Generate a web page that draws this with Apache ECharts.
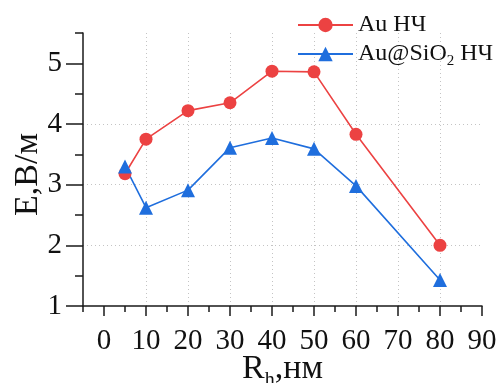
<!DOCTYPE html>
<html>
<head>
<meta charset="utf-8">
<script src="https://cdn.jsdelivr.net/npm/echarts@6/dist/echarts.min.js"></script>
<style>html,body{margin:0;padding:0;background:#fff}#c{width:499px;height:383px}</style>
</head>
<body>
<div id="c"></div>
<script>
// ---- data ----
const xValues = [5, 10, 20, 30, 40, 50, 60, 80];
const auValues = [3.18, 3.75, 4.22, 4.35, 4.87, 4.86, 3.83, 2.0];
const auSiO2Values = [3.30, 2.62, 2.91, 3.61, 3.77, 3.59, 2.98, 1.43];
const seriesNames = ['Au НЧ', 'Au@SiO2 НЧ'];
const xMajorTicks = [0, 10, 20, 30, 40, 50, 60, 70, 80, 90];
const yMajorTicks = [1, 2, 3, 4, 5];

const FONT = 'Liberation Serif';
const RED = '#ec4242';
const BLUE = '#1f6edd';
const AXIS = '#1a1a1a';

const chart = echarts.init(document.getElementById('c'), null, {renderer: 'canvas'});
const pairs = (ys) => xValues.map((x, i) => [x, ys[i]]);

const dotted = {color: '#c4c4c4', width: 1, type: [1, 3]};

chart.setOption({
  animation: false,
  backgroundColor: '#fff',
  textStyle: {fontFamily: FONT},
  grid: {left: 83, right: 17, top: 33, bottom: 77, containLabel: false, outerBoundsMode: 'none'},
  legend: {
    orient: 'vertical',
    left: 292,
    top: 8,
    itemWidth: 55,
    itemHeight: 18,
    itemGap: 5,
    data: seriesNames,
    formatter: (n) => n === seriesNames[1] ? '{m|Au@SiO}{s|2}{m| НЧ}' : '{m|' + n + '}',
    textStyle: {
      fontFamily: FONT, color: '#111', fontSize: 24,
      rich: {
        m: {fontFamily: FONT, fontSize: 24, lineHeight: 30, color: '#111'},
        s: {fontFamily: FONT, fontSize: 15, lineHeight: 15, verticalAlign: 'bottom', color: '#111'}
      }
    }
  },
  xAxis: [
    {
      type: 'value', min: -5, max: 90, splitNumber: 10,
      name: '{m|R}{s|h}{m|,нм}', nameLocation: 'middle', nameGap: 41, nameMoveOverlap: false,
      nameTextStyle: {
        fontFamily: FONT, color: '#111', fontSize: 34,
        rich: {
          m: {fontFamily: FONT, fontSize: 34, lineHeight: 44, color: '#111'},
          s: {fontFamily: FONT, fontSize: 20, lineHeight: 20, verticalAlign: 'bottom', color: '#111'}
        }
      },
      axisLine: {show: true, onZero: false, lineStyle: {color: AXIS, width: 1.5}},
      axisTick: {show: true, customValues: xMajorTicks, length: 10, lineStyle: {color: AXIS, width: 1.5}},
      axisLabel: {customValues: xMajorTicks, fontFamily: FONT, fontSize: 29, color: '#111', margin: 21},
      splitLine: {show: true, showMinLine: false, showMaxLine: false, lineStyle: dotted}
    },
    {
      type: 'value', min: -5, max: 90, interval: 5, position: 'bottom',
      axisLine: {show: false, onZero: false},
      axisTick: {show: true, length: 6, lineStyle: {color: AXIS, width: 1.5}},
      axisLabel: {show: false},
      splitLine: {show: false}
    }
  ],
  yAxis: [
    {
      type: 'value', min: 1, max: 5.5, interval: 1,
      name: 'E,В/м', nameLocation: 'middle', nameGap: 38, nameRotate: 90, nameMoveOverlap: false,
      nameTextStyle: {fontFamily: FONT, fontSize: 34, color: '#111', padding: [0, 10, 0, 0]},
      axisLine: {show: true, onZero: false, lineStyle: {color: AXIS, width: 1.5}},
      axisTick: {show: true, customValues: yMajorTicks, length: 17, lineStyle: {color: AXIS, width: 1.5}},
      axisLabel: {customValues: yMajorTicks, fontFamily: FONT, fontSize: 29, color: '#111', margin: 21},
      splitLine: {show: true, showMinLine: false, showMaxLine: false, lineStyle: dotted}
    },
    {
      type: 'value', min: 1, max: 5.5, interval: 0.5, position: 'left',
      axisLine: {show: false, onZero: false},
      axisTick: {show: true, length: 8, lineStyle: {color: AXIS, width: 1.5}},
      axisLabel: {show: false},
      splitLine: {show: false}
    }
  ],
  series: [
    {
      name: seriesNames[0], type: 'line', xAxisIndex: 0, yAxisIndex: 0,
      data: pairs(auValues),
      symbol: 'circle', symbolSize: 13,
      lineStyle: {color: RED, width: 1.6},
      itemStyle: {color: RED}
    },
    {
      name: seriesNames[1], type: 'line', xAxisIndex: 0, yAxisIndex: 0,
      data: pairs(auSiO2Values),
      symbol: 'triangle', symbolSize: 14,
      lineStyle: {color: BLUE, width: 1.6},
      itemStyle: {color: BLUE}
    }
  ]
});
</script>
</body>
</html>
